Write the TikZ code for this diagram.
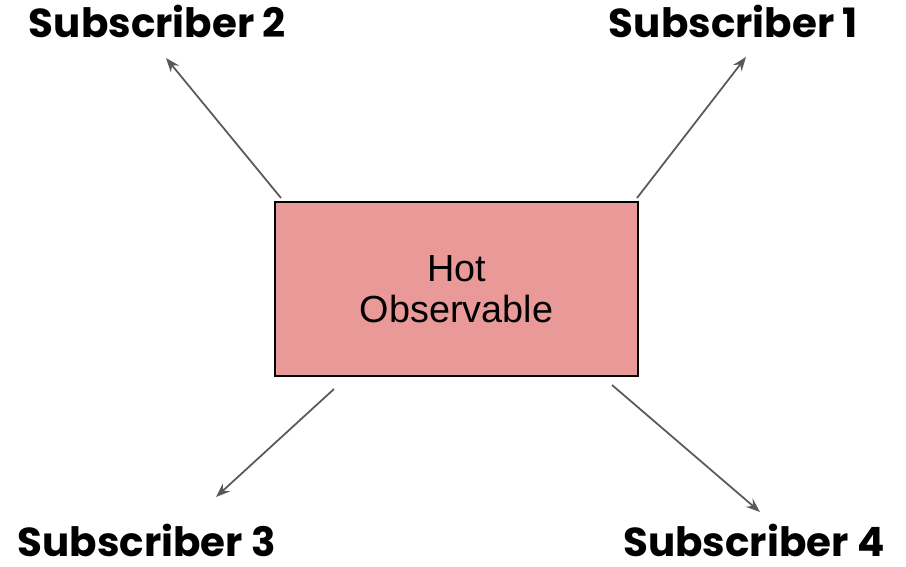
\documentclass[tikz,border=0pt]{standalone}
\usepackage{fontspec}
\setmainfont{Liberation Sans}
\newfontfamily\labelfont{Poppins}
\usepackage{tikz}
\usetikzlibrary{positioning, arrows.meta}

\definecolor{hotpink}{HTML}{EA9999}
\definecolor{arrowgray}{HTML}{595959}

\begin{document}
\begin{tikzpicture}[x=0.02cm, y=-0.02cm,
    source/.style={rectangle, draw, black, line width=0.7pt, fill=hotpink, minimum width=7.26cm, minimum height=3.48cm, align=center, font=\fontsize{21.5}{23.5}\selectfont},
    subscriber/.style={font=\labelfont\bfseries\fontsize{23}{26}\selectfont, inner sep=0pt},
    link/.style={draw, arrowgray, line width=1pt, -{Stealth[length=8pt, width=6pt]}}]

    \useasboundingbox (0,0) rectangle (906,567);

    % --- Source Node ---
    \node[source] (hot) at (456.5,289) {Hot\\Observable};

    % --- Subscribers ---
    \node[subscriber] (sub2) at (157.5,21) {Subscriber 2};
    \node[subscriber] (sub1) at (733.5,21) {Subscriber 1};
    \node[subscriber] (sub3) at (147,540) {Subscriber 3};
    \node[subscriber] (sub4) at (754,540) {Subscriber 4};

    % --- Arrow End Points ---
    \coordinate (s2) at (281,198);
    \coordinate (t2) at (166,58);
    \coordinate (s1) at (637,198);
    \coordinate (t1) at (746,57);
    \coordinate (s3) at (334,389);
    \coordinate (t3) at (216,497);
    \coordinate (s4) at (612,385);
    \coordinate (t4) at (760,512);

    % --- Links ---
    \draw[link] (s2) -- (t2);
    \draw[link] (s1) -- (t1);
    \draw[link] (s3) -- (t3);
    \draw[link] (s4) -- (t4);

\end{tikzpicture}
\end{document}
